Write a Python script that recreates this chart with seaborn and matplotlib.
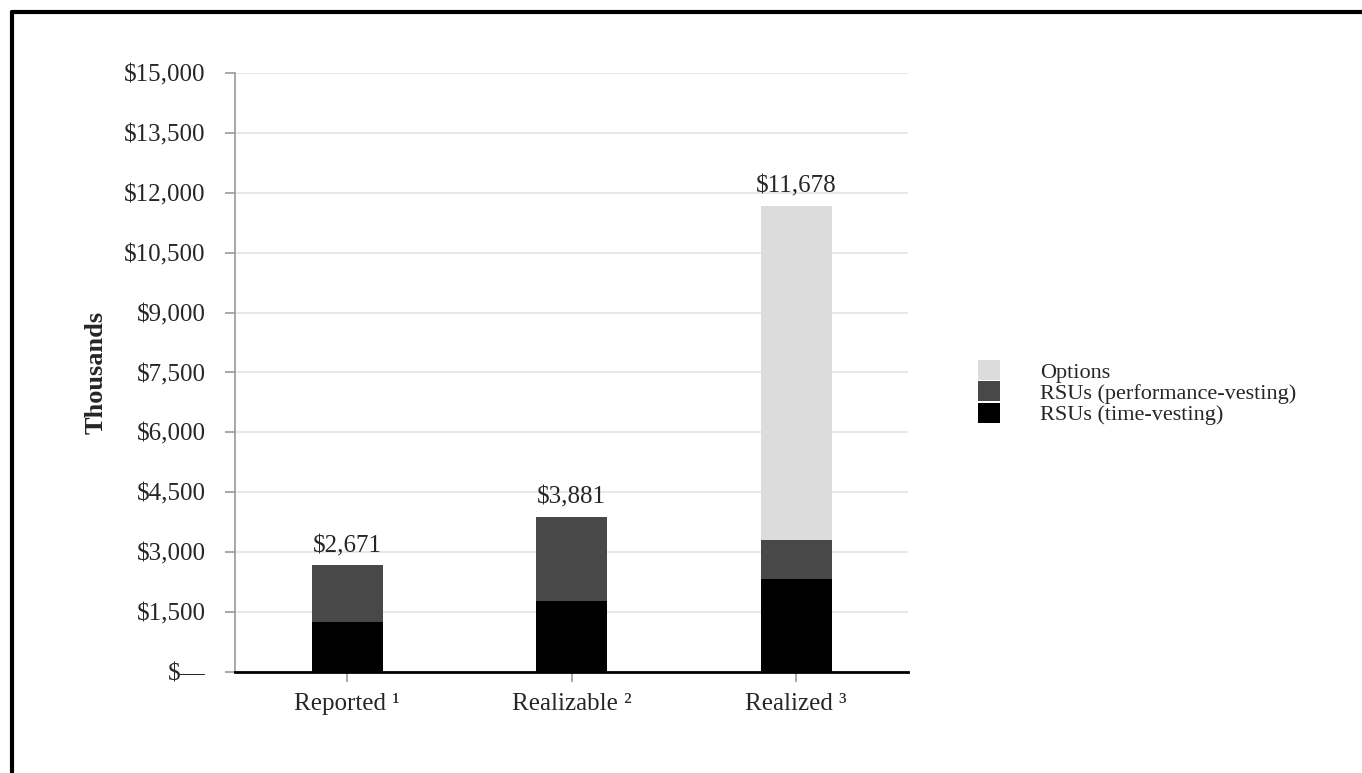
import pandas as pd
import matplotlib
matplotlib.use("Agg")
import matplotlib.pyplot as plt
from matplotlib.lines import Line2D
from matplotlib.ticker import FuncFormatter
import seaborn as sns

# данные (тыс. $)
categories = ["Reported \u00b9", "Realizable \u00b2", "Realized \u00b3"]
rsu_time = [1245, 1786, 2337]
rsu_perf = [1426, 2095, 969]
options = [0, 0, 8372]
totals = [2671, 3881, 11678]

df = pd.DataFrame({"category": categories, "time": rsu_time,
                   "perf": rsu_perf, "options": options})
df["time_perf"] = df["time"] + df["perf"]
df["all"] = df["time_perf"] + df["options"]

sns.set_style("white")
plt.rcParams["font.family"] = ["Liberation Serif", "DejaVu Serif"]

fig = plt.figure(figsize=(13.62, 7.73), dpi=100)
ax = fig.add_axes([0.1725, 0.1307, 0.4945, 0.7749])

bar_w = 0.316
# стек рисуем от большего к меньшему
layers = [("all", "#dcdcdc", "Options"),
          ("time_perf", "#484848", "RSUs (performance-vesting)"),
          ("time", "#000000", "RSUs (time-vesting)")]
for col, c, lab in layers:
    sns.barplot(data=df, x="category", y=col, color=c, width=bar_w,
                saturation=1, label=lab, linewidth=0, edgecolor=c, ax=ax)
if ax.get_legend() is not None:
    ax.get_legend().remove()

# подписи итогов
for i, t in enumerate(totals):
    ax.annotate(f"${t:,.0f}", xy=(i, t), xytext=(0, 6), textcoords="offset points",
                ha="center", va="bottom", fontsize=18)

ax.set_xlim(-0.5, 2.5)
ax.set_ylim(0, 15000)
ax.set_yticks(range(0, 15001, 1500))
ax.yaxis.set_major_formatter(FuncFormatter(lambda v, p: "$\u2014" if v == 0 else f"${v:,.0f}"))
ax.set_xlabel("")
ax.set_ylabel("Thousands", fontsize=19, fontweight="bold", labelpad=12)

ax.set_axisbelow(True)
ax.yaxis.grid(True, color="#e8e8e8", linewidth=1.5)
ax.xaxis.grid(False)

for s in ["top", "right"]:
    ax.spines[s].set_visible(False)
ax.spines["left"].set_color("#999999")
ax.spines["left"].set_linewidth(1.2)
ax.spines["bottom"].set_color("#000000")
ax.spines["bottom"].set_linewidth(2)

ax.tick_params(axis="y", left=True, length=7, width=1.2, color="#999999",
               pad=14, labelsize=18)
ax.tick_params(axis="x", bottom=True, length=7, width=1.2, color="#999999",
               pad=8, labelsize=18)

handles, labels = ax.get_legend_handles_labels()
fig.legend(handles, labels, loc="upper left", bbox_to_anchor=(0.718, 0.5343),
           frameon=False, fontsize=16, handlelength=1.0, handleheight=1.0,
           labelspacing=-0.05, handletextpad=1.8, borderpad=0, borderaxespad=0)

# рамка сверху и слева
fig.add_artist(Line2D([0.0085, 1.0], [0.984, 0.984], color="black", linewidth=3,
                      transform=fig.transFigure))
fig.add_artist(Line2D([0.0085, 0.0085], [0.0, 0.984], color="black", linewidth=3,
                      transform=fig.transFigure))

fig.savefig("out.png", dpi=100)
